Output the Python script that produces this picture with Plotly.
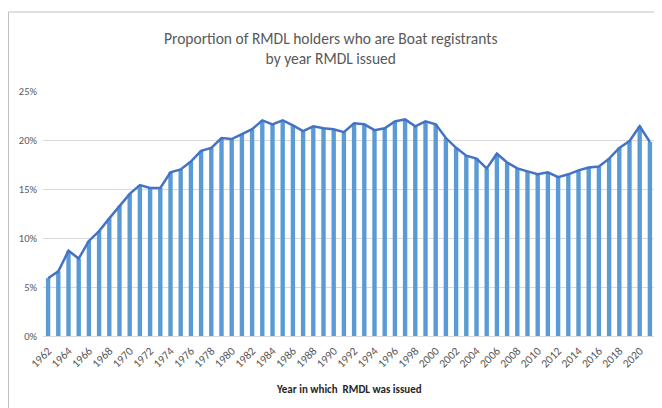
import plotly.graph_objects as go

years = list(range(1962, 2022))
proportion_pct = [5.9, 6.6, 8.7, 7.9, 9.7, 10.7, 12.0, 13.3, 14.5, 15.4,
                  15.1, 15.1, 16.7, 17.0, 17.8, 18.9, 19.2, 20.2, 20.1, 20.6,
                  21.1, 22.0, 21.6, 22.0, 21.5, 20.9, 21.4, 21.2, 21.1, 20.8,
                  21.7, 21.6, 21.0, 21.2, 21.9, 22.1, 21.4, 21.9, 21.6, 20.2,
                  19.2, 18.4, 18.1, 17.1, 18.6, 17.7, 17.1, 16.8, 16.5, 16.7,
                  16.2, 16.5, 16.9, 17.2, 17.3, 18.1, 19.2, 19.9, 21.4, 19.8]
tick_years = years[::2]
tick_labels = [str(y) for y in tick_years]
y_ticks = [0, 5, 10, 15, 20, 25]
y_tick_labels = [f"{v}%" for v in y_ticks]

font_family = "Carlito, 'Liberation Sans Narrow', 'Liberation Sans', Arial, sans-serif"

# page has an 8px body margin, so the figure is drawn 8px smaller
W, H = 654, 400
L, R, T, B = 35, 7, 83, 72
pw = W - L - R
ph = H - T - B

fig = go.Figure()
fig.add_trace(go.Bar(x=years, y=proportion_pct, width=0.43,
                     marker=dict(color="#5B9BD5", line=dict(width=0)),
                     hoverinfo="x+y", showlegend=False))
fig.add_trace(go.Scatter(x=years, y=proportion_pct, mode="lines",
                         line=dict(color="#4472C4", width=2.5),
                         showlegend=False))

fig.update_layout(
    width=W, height=H,
    margin=dict(l=L, r=R, t=T, b=B, autoexpand=False),
    paper_bgcolor="white", plot_bgcolor="white",
    font=dict(family=font_family, color="#595959", size=10),
    xaxis=dict(range=[1961.5, 2021.5], tickvals=tick_years, ticktext=tick_labels,
               tickangle=-45, showgrid=False, zeroline=False, showline=False,
               ticks="", ticklabelstandoff=5, automargin=False,
               tickfont=dict(size=11.5, color="#595959")),
    yaxis=dict(range=[0, 25], tickvals=y_ticks, ticktext=y_tick_labels,
               showgrid=True, gridcolor="#D9D9D9", gridwidth=1,
               zeroline=True, zerolinecolor="#D9D9D9", zerolinewidth=1,
               showline=False, ticks="", automargin=False, ticklabelstandoff=5,
               tickfont=dict(size=10.5, color="#595959")),
    bargap=0.5,
)

# title (two lines, centered on the chart)
fig.add_annotation(text="Proportion of RMDL holders who are Boat registrants<br>by year RMDL issued",
                   xref="paper", yref="paper",
                   x=(323 - L) / pw, y=((H - B) - 41) / ph,
                   xanchor="center", yanchor="middle", showarrow=False,
                   font=dict(size=15.5, color="#595959", family=font_family))

# x-axis title
fig.add_annotation(text="<b>Year in which  RMDL was issued</b>", xref="paper", yref="paper",
                   x=0.5, y=-(381 - (H - B)) / ph, xanchor="center", yanchor="middle",
                   showarrow=False, font=dict(size=11, color="#262626", family=font_family))

# chart frame (clipped on the right and bottom as in the reference)
fig.add_shape(type="rect", xref="paper", yref="paper",
              x0=(0.5 - L) / pw, x1=(W + 10 - L) / pw,
              y0=-(H + 10 - (H - B)) / ph, y1=((H - B) - 4) / ph,
              line=dict(color="#BFBFBF", width=1), fillcolor="rgba(0,0,0,0)",
              layer="above")

fig.write_html("out.html")
